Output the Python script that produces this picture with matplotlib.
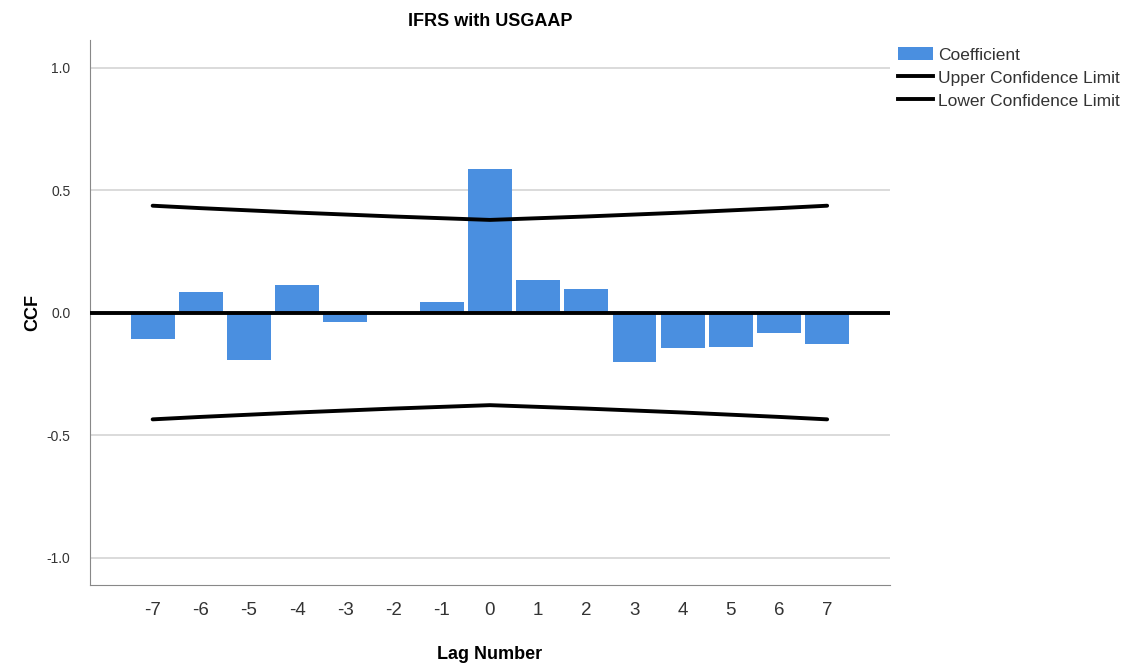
import matplotlib.pyplot as plt
from matplotlib.patches import Patch
from matplotlib.lines import Line2D

plt.rcParams['font.family'] = ['Liberation Sans', 'DejaVu Sans']

lags = [-7, -6, -5, -4, -3, -2, -1, 0, 1, 2, 3, 4, 5, 6, 7]
coef = [-0.110, 0.084, -0.195, 0.113, -0.040, 0.0, 0.041, 0.587,
        0.134, 0.096, -0.200, -0.144, -0.141, -0.082, -0.128]
upper = [0.436, 0.426, 0.417, 0.408, 0.400, 0.392, 0.385, 0.378,
         0.385, 0.392, 0.400, 0.408, 0.417, 0.426, 0.436]
lower = [-u for u in upper]

fig = plt.figure(figsize=(11.28, 6.64), dpi=100)
ax = fig.add_axes([0.0798, 0.119, 0.709, 0.821])

for yv in [1.0, 0.5, -0.5, -1.0]:
    ax.axhline(yv, color='#d4d4d4', lw=1.2, zorder=0)

ax.bar(lags, coef, width=0.91, color='#4a8fe0', zorder=2)
ax.axhline(0, color='black', lw=2.8, zorder=3)
ax.plot(lags, upper, color='black', lw=2.8, zorder=4, solid_capstyle='round')
ax.plot(lags, lower, color='black', lw=2.8, zorder=4, solid_capstyle='round')

ax.set_xlim(-8.3, 8.3)
ax.set_ylim(-1.112, 1.113)
ax.set_xticks(lags)
ax.set_xticklabels([str(l) for l in lags], fontsize=13.5, color='#333333')
ax.set_yticks([-1.0, -0.5, 0.0, 0.5, 1.0])
ax.set_yticklabels(['-1.0', '-0.5', '0.0', '0.5', '1.0'], fontsize=10, color='#333333')
ax.tick_params(axis='x', length=0, pad=12)
ax.tick_params(axis='y', length=0, pad=14)

for s in ['top', 'right']:
    ax.spines[s].set_visible(False)
ax.spines['left'].set_color('#888888')
ax.spines['bottom'].set_color('#888888')

ax.set_title('IFRS with USGAAP', fontsize=13, fontweight='bold', pad=10)
ax.set_ylabel('CCF', fontsize=13, fontweight='bold', labelpad=4)
ax.set_xlabel('Lag Number', fontsize=13, fontweight='bold', labelpad=20)

handles = [Patch(facecolor='#4a8fe0', label='Coefficient'),
           Line2D([0], [0], color='black', lw=2.8, label='Upper Confidence Limit'),
           Line2D([0], [0], color='black', lw=2.8, label='Lower Confidence Limit')]
leg = fig.legend(handles=handles, loc='upper left', bbox_to_anchor=(0.790, 0.939),
                 frameon=False, fontsize=12.5, handlelength=2.0, handletextpad=0.3,
                 labelspacing=0.45, borderaxespad=0)
for t in leg.get_texts():
    t.set_color('#333333')

fig.savefig('out.png', dpi=100)
